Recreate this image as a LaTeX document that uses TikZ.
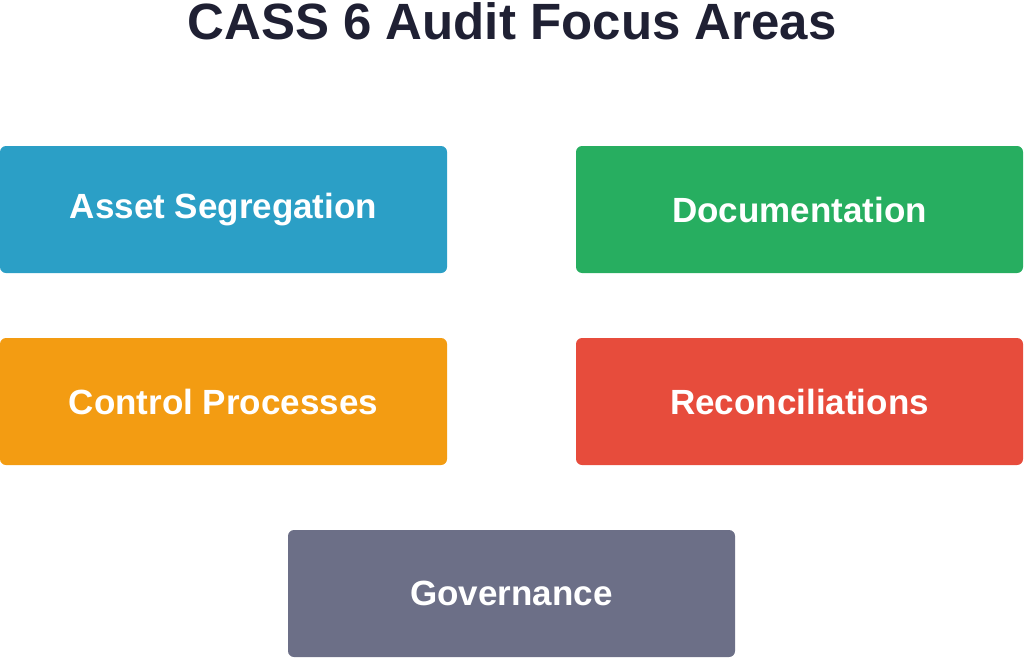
\documentclass[tikz,border=0pt]{standalone}
\usepackage{fontspec}
\setmainfont{Liberation Sans}
\begin{document}
\begin{tikzpicture}[x=1pt,y=-1pt,
  box/.style={draw=none,rounded corners=6pt,minimum width=447pt,minimum height=127pt,text=white,font=\fontsize{35}{40}\selectfont\bfseries,inner sep=0pt}]
\useasboundingbox (0,0) rectangle (1024,658);
\definecolor{cblue}{HTML}{2B9FC6}
\definecolor{cgreen}{HTML}{27AE60}
\definecolor{corange}{HTML}{F39C12}
\definecolor{cred}{HTML}{E74C3C}
\definecolor{cgray}{HTML}{6C6F87}
\definecolor{ctitle}{HTML}{1F2033}
\node[text=ctitle,font=\fontsize{51}{58}\selectfont\bfseries] (title) at (512,21) {CASS 6 Audit Focus Areas};
\node[box,fill=cblue] (seg) at (223.5,209.5) {Asset Segregation};
\node[box,fill=cgreen] (doc) at (799.5,209.5) {Documentation};
\node[box,fill=corange] (ctl) at (223.5,401.5) {Control Processes};
\node[box,fill=cred] (rec) at (799.5,401.5) {Reconciliations};
\node[box,fill=cgray] (gov) at (511.5,593.5) {Governance};
\end{tikzpicture}
\end{document}
